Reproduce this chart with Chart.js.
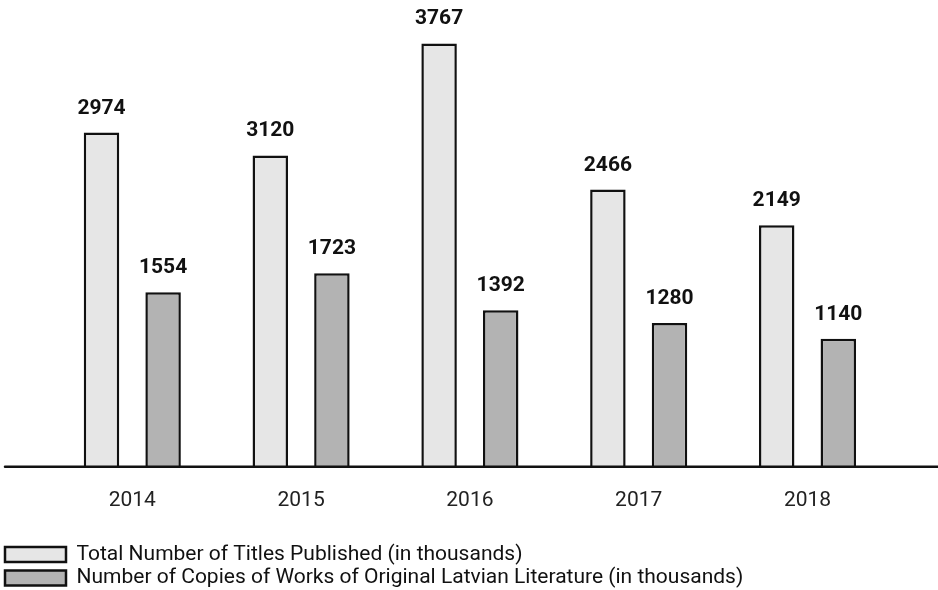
<!DOCTYPE html>
<html>
<head>
<meta charset="utf-8">
<script src="https://cdn.jsdelivr.net/npm/chart.js@4/dist/chart.umd.min.js"></script>
<style>
  html, body { margin: 0; padding: 0; background: #fff; }
  #wrap { width: 938px; height: 590px; }
</style>
</head>
<body>
<div id="wrap"><canvas id="chart"></canvas></div>
<script>
// データ（棒の高さは図から読み取った値）
const years = [ '2014', '2015', '2016', '2017', '2018' ];
const totalTitles = [ 2974, 2770, 3767, 2466, 2149 ];
const latvianCopies = [ 1554, 1723, 1392, 1280, 1140 ];
// 棒の上に表示されている数値（2015年の棒は表示値より低く描かれている）
const totalTitlesText = [ '2974', '3120', '3767', '2466', '2149' ];
const latvianCopiesText = [ '1554', '1723', '1392', '1280', '1140' ];
const seriesNames = [
	'Total Number of Titles Published (in thousands)',
	'Number of Copies of Works of Original Latvian Literature (in thousands)',
];
const valueTexts = [ totalTitlesText, latvianCopiesText ];

// 棒の上に値を描くプラグイン
const valueLabels = {
	id: 'valueLabels',
	afterDatasetsDraw( chart ) {
		const ctx = chart.ctx;
		ctx.save();
		ctx.font = 'bold 21px Roboto';
		ctx.fillStyle = '#111';
		ctx.textAlign = 'center';
		ctx.textBaseline = 'alphabetic';
		chart.data.datasets.forEach( ( ds, i ) => {
			chart.getDatasetMeta( i ).data.forEach( ( bar, j ) => {
				ctx.fillText( valueTexts[ i ][ j ], bar.x, bar.y - 19 );
			} );
		} );
		ctx.restore();
	},
};

// 横軸の線（キャンバス全幅）
const baseLine = {
	id: 'baseLine',
	afterDatasetsDraw( chart ) {
		const ctx = chart.ctx;
		const y = chart.scales.y.getPixelForValue( 0 );
		ctx.save();
		ctx.strokeStyle = '#111';
		ctx.lineWidth = 2.5;
		ctx.lineCap = 'round';
		ctx.beginPath();
		ctx.moveTo( 5, y );
		ctx.lineTo( chart.width, y );
		ctx.stroke();
		ctx.restore();
	},
};

// 凡例を少し下へずらす
const legendShift = {
	id: 'legendShift',
	afterLayout( chart ) {
		chart.legend.top += 15.5;
		chart.legend.bottom += 15.5;
	},
};

new Chart( document.getElementById( 'chart' ), {
	type: 'bar',
	data: {
		labels: years,
		datasets: [
			{
				label: seriesNames[ 0 ],
				data: totalTitles,
				backgroundColor: '#e6e6e6',
				borderColor: '#111',
				borderWidth: 2.5,
			},
			{
				label: seriesNames[ 1 ],
				data: latvianCopies,
				backgroundColor: '#b3b3b3',
				borderColor: '#111',
				borderWidth: 2.5,
			},
		],
	},
	options: {
		responsive: true,
		maintainAspectRatio: false,
		animation: false,
		categoryPercentage: 0.73,
		barPercentage: 0.576,
		layout: {
			padding: { top: 17.2, left: 2.5, right: 46.1, bottom: 7 },
		},
		scales: {
			x: {
				grid: { display: false },
				border: { display: false },
				ticks: {
					color: '#222',
					font: { family: 'Roboto', size: 21 },
					padding: 13,
				},
			},
			y: {
				display: true,
				min: 0,
				max: 4000,
				grid: { display: false },
				border: { display: false },
				ticks: { display: false },
				afterFit( scale ) {
					scale.width = 45.4;
				},
			},
		},
		plugins: {
			legend: {
				position: 'bottom',
				align: 'start',
				labels: {
					boxWidth: 61,
					boxHeight: 15,
					padding: 2.5,
					color: '#111',
					font: { family: 'Roboto', size: 21 },
				},
			},
			tooltip: { enabled: false },
		},
	},
	plugins: [ valueLabels, baseLine, legendShift ],
} );
</script>
</body>
</html>
